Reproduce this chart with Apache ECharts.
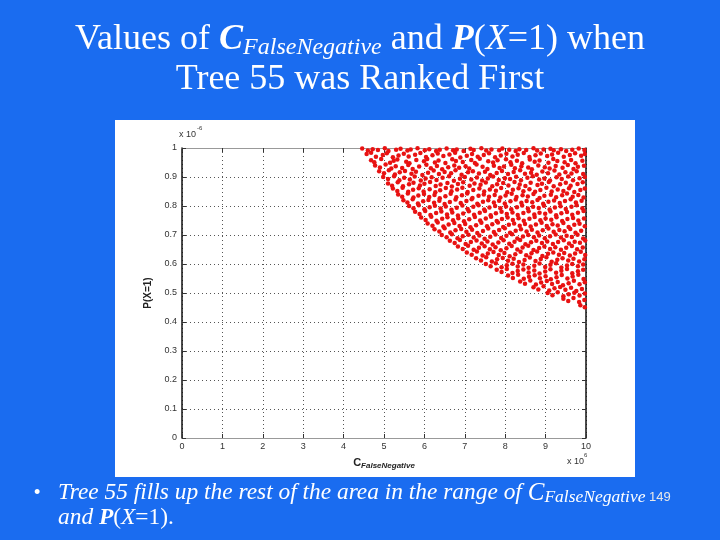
<!DOCTYPE html>
<html><head><meta charset="utf-8">
<script src="https://cdn.jsdelivr.net/npm/echarts@6/dist/echarts.min.js"></script>
<style>html,body{margin:0;padding:0;background:#1a6cf0}#c{width:720px;height:540px}</style>
</head><body><div id="c"></div><script>
const xTicks = [0,1,2,3,4,5,6,7,8,9,10];
const yTicks = [0,0.1,0.2,0.3,0.4,0.5,0.6,0.7,0.8,0.9,1];
// C_FalseNegative (x 10^6), P(X=1) (x 10^-6) — upper band
const bandA = [
[4.46,.998],[4.6,.991],[4.72,.996],[4.85,.993],[5.02,.999],[5.11,.990],[5.3,.994],[5.41,.997],[5.58,.991],[5.66,.995],[5.83,.999],[6.01,.992],[6.12,.996],[6.29,.990],[6.38,.994],[6.55,.998],[6.71,.992],[6.8,.995],[6.97,.990],[7.14,.997],[7.22,.993],[7.41,.999],[7.53,.991],[7.66,.995],[7.85,.992],[7.93,.998],[8.1,.994],[8.26,.990],[8.35,.996],[8.52,.993],[8.7,.999],[8.79,.991],[8.95,.995],[9.12,.997],[9.2,.992],[9.38,.996],[9.51,.990],[9.66,.994],[9.82,.998],[9.96,.993],
[4.57,.979],[4.68,.984],[4.8,.970],[4.97,.976],[5.07,.982],[5.22,.968],[5.36,.974],[5.49,.980],[5.61,.971],[5.77,.977],[5.9,.983],[6.04,.969],[6.2,.975],[6.33,.981],[6.47,.972],[6.62,.978],[6.76,.984],[6.89,.967],[7.05,.973],[7.18,.979],[7.32,.970],[7.47,.976],[7.6,.982],[7.75,.968],[7.89,.974],[8.03,.980],[8.18,.971],[8.31,.977],[8.46,.983],[8.6,.969],[8.75,.975],[8.88,.981],[9.04,.972],[9.16,.978],[9.31,.984],[9.45,.970],[9.6,.976],[9.73,.982],[9.88,.973],[9.97,.979],
[4.68,.958],[4.76,.951],[4.93,.962],[5.15,.949],[5.24,.956],[5.33,.960],[5.55,.953],[5.63,.947],[5.8,.959],[5.99,.954],[6.07,.962],[6.26,.950],[6.35,.957],[6.52,.948],[6.69,.961],[6.78,.955],[6.95,.952],[7.16,.959],[7.25,.948],[7.37,.963],[7.58,.954],[7.7,.950],[7.81,.958],[8.02,.961],[8.13,.951],[8.29,.956],[8.42,.947],[8.61,.960],[8.73,.953],[8.85,.957],[9.07,.949],[9.19,.962],[9.29,.955],[9.47,.951],[9.63,.959],[9.74,.947],[9.91,.956],
[4.78,.940],[4.9,.933],[5.04,.943],[5.18,.929],[5.29,.937],[5.45,.931],[5.6,.941],[5.71,.928],[5.87,.936],[6.05,.942],[6.16,.930],[6.31,.938],[6.44,.927],[6.59,.934],[6.74,.940],[6.86,.932],[7.02,.937],[7.11,.929],[7.29,.943],[7.44,.935],[7.56,.928],[7.72,.939],[7.86,.931],[7.97,.936],[8.15,.942],[8.24,.930],[8.4,.937],[8.57,.933],[8.66,.927],[8.82,.940],[8.98,.934],[9.1,.929],[9.25,.938],[9.42,.932],[9.55,.941],[9.69,.928],[9.8,.935],[9.95,.939],
[4.88,.920],[5.0,.913],[5.12,.923],[5.27,.909],[5.39,.916],[5.52,.921],[5.68,.911],[5.79,.918],[5.95,.907],[6.09,.915],[6.23,.922],[6.36,.910],[6.5,.917],[6.66,.913],[6.77,.923],[6.92,.908],[7.08,.916],[7.2,.920],[7.35,.912],[7.5,.918],[7.63,.907],[7.79,.914],[7.92,.921],[8.07,.910],[8.21,.917],[8.37,.923],[8.49,.911],[8.64,.915],[8.78,.908],[8.92,.919],[9.06,.913],[9.22,.922],[9.34,.909],[9.49,.916],[9.64,.912],[9.77,.920],[9.93,.910],
[4.98,.900],[5.1,.893],[5.25,.903],[5.38,.889],[5.5,.897],[5.64,.891],[5.76,.902],[5.91,.888],[6.03,.895],[6.18,.899],[6.3,.890],[6.45,.897],[6.61,.903],[6.73,.887],[6.88,.894],[7.0,.900],[7.16,.891],[7.3,.898],[7.43,.888],[7.57,.895],[7.7,.902],[7.84,.890],[7.99,.896],[8.12,.893],[8.27,.901],[8.39,.889],[8.55,.897],[8.68,.903],[8.84,.891],[8.97,.895],[9.11,.888],[9.27,.899],[9.4,.893],[9.56,.902],[9.68,.889],[9.84,.896],[9.97,.900],
[5.1,.878],[5.2,.870],[5.34,.882],[5.47,.868],[5.62,.875],[5.73,.880],[5.89,.871],[6.0,.877],[6.14,.883],[6.28,.869],[6.4,.874],[6.57,.879],[6.68,.867],[6.83,.876],[6.96,.882],[7.12,.870],[7.24,.878],[7.39,.873],[7.52,.881],[7.68,.868],[7.8,.875],[7.95,.879],[8.08,.871],[8.23,.883],[8.36,.874],[8.5,.869],[8.63,.880],[8.8,.872],[8.91,.877],[9.08,.883],[9.2,.868],[9.36,.875],[9.5,.880],[9.62,.870],[9.79,.876],[9.92,.882]
];
// middle band
const bandB = [
[5.22,.860],[5.33,.852],[5.46,.863],[5.6,.849],[5.72,.856],[5.86,.861],[5.98,.850],[6.13,.858],[6.27,.847],[6.39,.854],[6.53,.862],[6.67,.851],[6.81,.857],[6.94,.863],[7.07,.848],[7.21,.855],[7.36,.860],[7.48,.850],[7.62,.857],[7.77,.853],[7.9,.862],[8.05,.847],[8.19,.856],[8.33,.861],[8.45,.851],[8.6,.858],[8.74,.849],[8.87,.855],[9.02,.863],[9.15,.850],[9.3,.857],[9.44,.852],[9.58,.861],[9.71,.848],[9.86,.855],[9.97,.860],
[5.35,.840],[5.45,.832],[5.59,.843],[5.73,.829],[5.85,.836],[5.99,.841],[6.12,.831],[6.25,.838],[6.38,.827],[6.52,.834],[6.65,.842],[6.79,.830],[6.93,.837],[7.06,.843],[7.19,.828],[7.34,.835],[7.47,.840],[7.6,.832],[7.74,.838],[7.88,.829],[8.01,.836],[8.16,.842],[8.28,.831],[8.43,.837],[8.56,.833],[8.7,.841],[8.85,.828],[8.97,.835],[9.13,.839],[9.26,.830],[9.41,.837],[9.53,.843],[9.67,.832],[9.81,.838],[9.94,.829],
[5.48,.820],[5.58,.812],[5.71,.823],[5.84,.809],[5.97,.816],[6.1,.821],[6.24,.811],[6.37,.818],[6.5,.807],[6.63,.814],[6.77,.822],[6.9,.810],[7.04,.817],[7.17,.823],[7.31,.808],[7.45,.815],[7.58,.820],[7.72,.812],[7.85,.818],[7.99,.809],[8.13,.816],[8.26,.822],[8.4,.811],[8.53,.817],[8.67,.813],[8.8,.821],[8.94,.808],[9.07,.815],[9.21,.819],[9.35,.810],[9.48,.817],[9.62,.823],[9.75,.812],[9.89,.818],
[5.62,.800],[5.73,.792],[5.86,.803],[6.0,.789],[6.13,.796],[6.26,.801],[6.4,.791],[6.53,.798],[6.67,.787],[6.8,.794],[6.94,.802],[7.07,.790],[7.21,.797],[7.34,.803],[7.48,.788],[7.61,.795],[7.75,.800],[7.88,.792],[8.02,.798],[8.15,.789],[8.29,.796],[8.42,.802],[8.56,.791],[8.69,.797],[8.83,.793],[8.96,.801],[9.1,.788],[9.23,.795],[9.37,.799],[9.5,.790],[9.64,.797],[9.77,.803],[9.91,.792],
[5.77,.780],[5.88,.772],[6.02,.783],[6.15,.769],[6.29,.776],[6.42,.781],[6.56,.771],[6.69,.778],[6.83,.767],[6.96,.774],[7.1,.782],[7.23,.770],[7.37,.777],[7.5,.783],[7.64,.768],[7.77,.775],[7.91,.780],[8.04,.772],[8.18,.778],[8.31,.769],[8.45,.776],[8.58,.782],[8.72,.771],[8.85,.777],[8.99,.773],[9.12,.781],[9.26,.768],[9.39,.775],[9.53,.779],[9.66,.770],[9.8,.777],[9.94,.783],
[5.92,.760],[6.03,.752],[6.17,.763],[6.3,.749],[6.44,.756],[6.57,.761],[6.71,.751],[6.84,.758],[6.98,.747],[7.11,.754],[7.25,.762],[7.38,.750],[7.52,.757],[7.65,.763],[7.79,.748],[7.92,.755],[8.06,.760],[8.19,.752],[8.33,.758],[8.46,.749],[8.6,.756],[8.73,.762],[8.87,.751],[9.0,.757],[9.14,.753],[9.27,.761],[9.41,.748],[9.54,.755],[9.68,.759],[9.81,.750],[9.95,.757],
[6.08,.740],[6.2,.732],[6.33,.743],[6.47,.729],[6.6,.736],[6.74,.741],[6.87,.731],[7.01,.738],[7.14,.727],[7.28,.734],[7.41,.742],[7.55,.730],[7.68,.737],[7.82,.743],[7.95,.728],[8.09,.735],[8.22,.740],[8.36,.732],[8.49,.738],[8.63,.729],[8.76,.736],[8.9,.742],[9.03,.731],[9.17,.737],[9.3,.733],[9.44,.741],[9.57,.728],[9.71,.735],[9.84,.739],[9.97,.730]
];
// lower band
const bandC = [
[6.25,.720],[6.37,.712],[6.5,.723],[6.64,.709],[6.77,.716],[6.91,.721],[7.04,.711],[7.18,.718],[7.31,.707],[7.45,.714],[7.58,.722],[7.72,.710],[7.85,.717],[7.99,.723],[8.12,.708],[8.26,.715],[8.39,.720],[8.53,.712],[8.66,.718],[8.8,.709],[8.93,.716],[9.07,.722],[9.2,.711],[9.34,.717],[9.47,.713],[9.61,.721],[9.74,.708],[9.88,.715],
[6.43,.700],[6.55,.692],[6.68,.703],[6.82,.689],[6.95,.696],[7.09,.701],[7.22,.691],[7.36,.698],[7.49,.687],[7.63,.694],[7.76,.702],[7.9,.690],[8.03,.697],[8.17,.703],[8.3,.688],[8.44,.695],[8.57,.700],[8.71,.692],[8.84,.698],[8.98,.689],[9.11,.696],[9.25,.702],[9.38,.691],[9.52,.697],[9.65,.693],[9.79,.701],[9.93,.688],
[6.63,.680],[6.75,.672],[6.88,.683],[7.02,.669],[7.15,.676],[7.29,.681],[7.42,.671],[7.56,.678],[7.69,.667],[7.83,.674],[7.96,.682],[8.1,.670],[8.23,.677],[8.37,.683],[8.5,.668],[8.64,.675],[8.77,.680],[8.91,.672],[9.04,.678],[9.18,.669],[9.31,.676],[9.45,.682],[9.58,.671],[9.72,.677],[9.85,.673],[9.98,.681],
[6.83,.660],[6.95,.652],[7.08,.663],[7.22,.649],[7.35,.656],[7.49,.661],[7.62,.651],[7.76,.658],[7.89,.647],[8.03,.654],[8.16,.662],[8.3,.650],[8.43,.657],[8.57,.663],[8.7,.648],[8.84,.655],[8.97,.660],[9.11,.652],[9.24,.658],[9.38,.649],[9.51,.656],[9.65,.662],[9.78,.651],[9.92,.657],
[7.05,.640],[7.17,.632],[7.3,.643],[7.44,.629],[7.57,.636],[7.71,.641],[7.84,.631],[7.98,.638],[8.11,.627],[8.25,.634],[8.38,.642],[8.52,.630],[8.65,.637],[8.79,.643],[8.92,.628],[9.06,.635],[9.19,.640],[9.33,.632],[9.46,.638],[9.6,.629],[9.73,.636],[9.87,.642],[9.98,.631],
[7.28,.620],[7.4,.612],[7.53,.623],[7.67,.609],[7.8,.616],[7.94,.621],[8.07,.611],[8.21,.618],[8.34,.607],[8.48,.614],[8.61,.622],[8.75,.610],[8.88,.617],[9.02,.623],[9.15,.608],[9.29,.615],[9.42,.620],[9.56,.612],[9.69,.618],[9.83,.609],[9.96,.616],
[7.52,.600],[7.64,.592],[7.77,.603],[7.91,.589],[8.04,.596],[8.18,.601],[8.31,.591],[8.45,.598],[8.58,.587],[8.72,.594],[8.85,.602],[8.99,.590],[9.12,.597],[9.26,.603],[9.39,.588],[9.53,.595],[9.66,.600],[9.8,.592],[9.93,.598],
[7.79,.580],[7.91,.572],[8.04,.583],[8.18,.569],[8.31,.576],[8.45,.581],[8.58,.571],[8.72,.578],[8.85,.567],[8.99,.574],[9.12,.582],[9.26,.570],[9.39,.577],[9.53,.583],[9.66,.568],[9.8,.575],[9.93,.580],
[8.07,.560],[8.19,.552],[8.32,.563],[8.46,.549],[8.59,.556],[8.73,.561],[8.86,.551],[9.0,.558],[9.13,.547],[9.27,.554],[9.4,.562],[9.54,.550],[9.67,.557],[9.81,.563],[9.94,.548],
[8.37,.540],[8.49,.532],[8.62,.543],[8.76,.529],[8.89,.536],[9.03,.541],[9.16,.531],[9.3,.538],[9.43,.527],[9.57,.534],[9.7,.542],[9.84,.530],[9.97,.537],
[8.7,.520],[8.82,.512],[8.95,.523],[9.09,.509],[9.22,.516],[9.36,.521],[9.49,.511],[9.63,.518],[9.76,.507],[9.9,.514],
[9.05,.500],[9.17,.492],[9.3,.503],[9.44,.489],[9.57,.496],[9.71,.501],[9.84,.491],[9.97,.498],
[9.44,.480],[9.56,.472],[9.69,.483],[9.83,.469],[9.96,.476],
[9.86,.458],[9.97,.451]
];
const points = bandA.concat(bandB, bandC);

const chart = echarts.init(document.getElementById('c'), null, {renderer:'canvas'});
const sans = 'Liberation Sans, Arial, sans-serif';
const serif = 'Liberation Serif, Times New Roman, serif';
const dotted = {show:true, lineStyle:{color:'#555', width:1, type:[1,3]}};
const labelStyle = {color:'#333', fontSize:9, fontFamily:sans};
const W = 'normal';
option = {
  animation:false,
  backgroundColor:'#1a6cf0',
  title:[
    {left:'center', top:20, padding:0,
     text:'{n|Values of }{b|C}{s|FalseNegative}{n| and }{b|P}{n|(}{i|X}{n|=1) when}',
     textStyle:{fontWeight:W, rich:{
       n:{color:'#fff', fontFamily:serif, fontSize:36, fontWeight:W, lineHeight:40},
       b:{color:'#fff', fontFamily:serif, fontSize:36, fontWeight:'bold', fontStyle:'italic', lineHeight:40},
       i:{color:'#fff', fontFamily:serif, fontSize:36, fontWeight:W, fontStyle:'italic', lineHeight:40},
       s:{color:'#fff', fontFamily:serif, fontSize:24, fontWeight:W, fontStyle:'italic', lineHeight:24, padding:[16,0,0,0]}
     }}},
    {left:'center', top:60, padding:0, text:'Tree 55 was Ranked First',
     textStyle:{color:'#fff', fontFamily:serif, fontSize:36, fontWeight:W, lineHeight:40}},
    {left:34, top:480, padding:0, text:'•', textStyle:{color:'#fff', fontFamily:sans, fontSize:18, fontWeight:W, lineHeight:26}},
    {left:58, top:480, padding:0,
     text:'{n|Tree 55 fills up the rest of the area in the range of }{c|C}{s|FalseNegative}{m| 149}',
     textStyle:{fontWeight:W, rich:{
       n:{color:'#fff', fontFamily:serif, fontSize:23.4, fontWeight:W, fontStyle:'italic', lineHeight:26},
       c:{color:'#fff', fontFamily:serif, fontSize:25, fontWeight:W, fontStyle:'italic', lineHeight:26},
       s:{color:'#fff', fontFamily:serif, fontSize:17.5, fontWeight:W, fontStyle:'italic', lineHeight:18, padding:[8,0,0,0]},
       m:{color:'#e8e8e8', fontFamily:sans, fontSize:13, fontWeight:W, lineHeight:14, padding:[8,0,0,0]}
     }}},
    {left:58, top:505, padding:0,
     text:'{n|and }{b|P}{u|(}{n|X}{u|=1).}',
     textStyle:{fontWeight:W, rich:{
       n:{color:'#fff', fontFamily:serif, fontSize:23.4, fontWeight:W, fontStyle:'italic', lineHeight:26},
       u:{color:'#fff', fontFamily:serif, fontSize:23.4, fontWeight:W, lineHeight:26},
       b:{color:'#fff', fontFamily:serif, fontSize:23.4, fontStyle:'italic', fontWeight:'bold', lineHeight:26}
     }}}
  ],
  graphic:[
    {type:'rect', z:-1, silent:true, shape:{x:115, y:120, width:520, height:357}, style:{fill:'#fff'}},
    {type:'text', x:179, y:135, style:{text:'x 10', fill:'#333', font:'9px '+sans, textVerticalAlign:'middle'}},
    {type:'text', x:197, y:128, style:{text:'-6', fill:'#333', font:'6px '+sans, textVerticalAlign:'middle'}},
    {type:'text', x:567, y:462, style:{text:'x 10', fill:'#333', font:'9px '+sans, textVerticalAlign:'middle'}},
    {type:'text', x:584, y:455, style:{text:'6', fill:'#333', font:'6px '+sans, textVerticalAlign:'middle'}}
  ],
  grid:{left:182, right:134, top:148, bottom:102, containLabel:false},
  xAxis:[
    {type:'value', min:xTicks[0], max:xTicks[xTicks.length-1], interval:1, position:'bottom',
     axisLine:{show:true, onZero:false, lineStyle:{color:'#999', width:1}},
     axisTick:{show:true, inside:true, length:4, lineStyle:{color:'#333'}},
     axisLabel:Object.assign({margin:4}, labelStyle),
     splitLine:dotted,
     name:'{c|C}{s|FalseNegative}', nameLocation:'middle', nameGap:18,
     nameTextStyle:{rich:{
       c:{fontFamily:sans, fontSize:11, fontWeight:'bold', color:'#222', lineHeight:14},
       s:{fontFamily:sans, fontSize:8, fontWeight:'bold', fontStyle:'italic', color:'#222', lineHeight:8, padding:[6,0,0,0]}
     }}},
    {type:'value', min:0, max:10, interval:1, position:'top',
     axisLine:{show:true, onZero:false, lineStyle:{color:'#999', width:1}},
     axisTick:{show:true, inside:true, length:4, lineStyle:{color:'#333'}},
     axisLabel:{show:false}, splitLine:{show:false}}
  ],
  yAxis:[
    {type:'value', min:yTicks[0], max:yTicks[yTicks.length-1], interval:0.1, position:'left',
     axisLine:{show:true, onZero:false, lineStyle:{color:'#111', width:1.5}},
     axisTick:{show:true, inside:true, length:4, lineStyle:{color:'#333'}},
     axisLabel:Object.assign({margin:5}, labelStyle),
     splitLine:dotted,
     name:'P(X=1)', nameLocation:'middle', nameGap:20, nameRotate:90,
     nameTextStyle:{fontFamily:sans, fontSize:10, fontWeight:'bold', color:'#222'}},
    {type:'value', min:0, max:1, interval:0.1, position:'right',
     axisLine:{show:true, onZero:false, lineStyle:{color:'#111', width:1.5}},
     axisTick:{show:true, inside:true, length:4, lineStyle:{color:'#333'}},
     axisLabel:{show:false}, splitLine:{show:false}}
  ],
  series:[{
    type:'scatter', xAxisIndex:0, yAxisIndex:0, data:points,
    symbol:'circle', symbolSize:4.5, itemStyle:{color:'#e81212', opacity:1}, silent:true
  }]
};
chart.setOption(option);
</script></body></html>
